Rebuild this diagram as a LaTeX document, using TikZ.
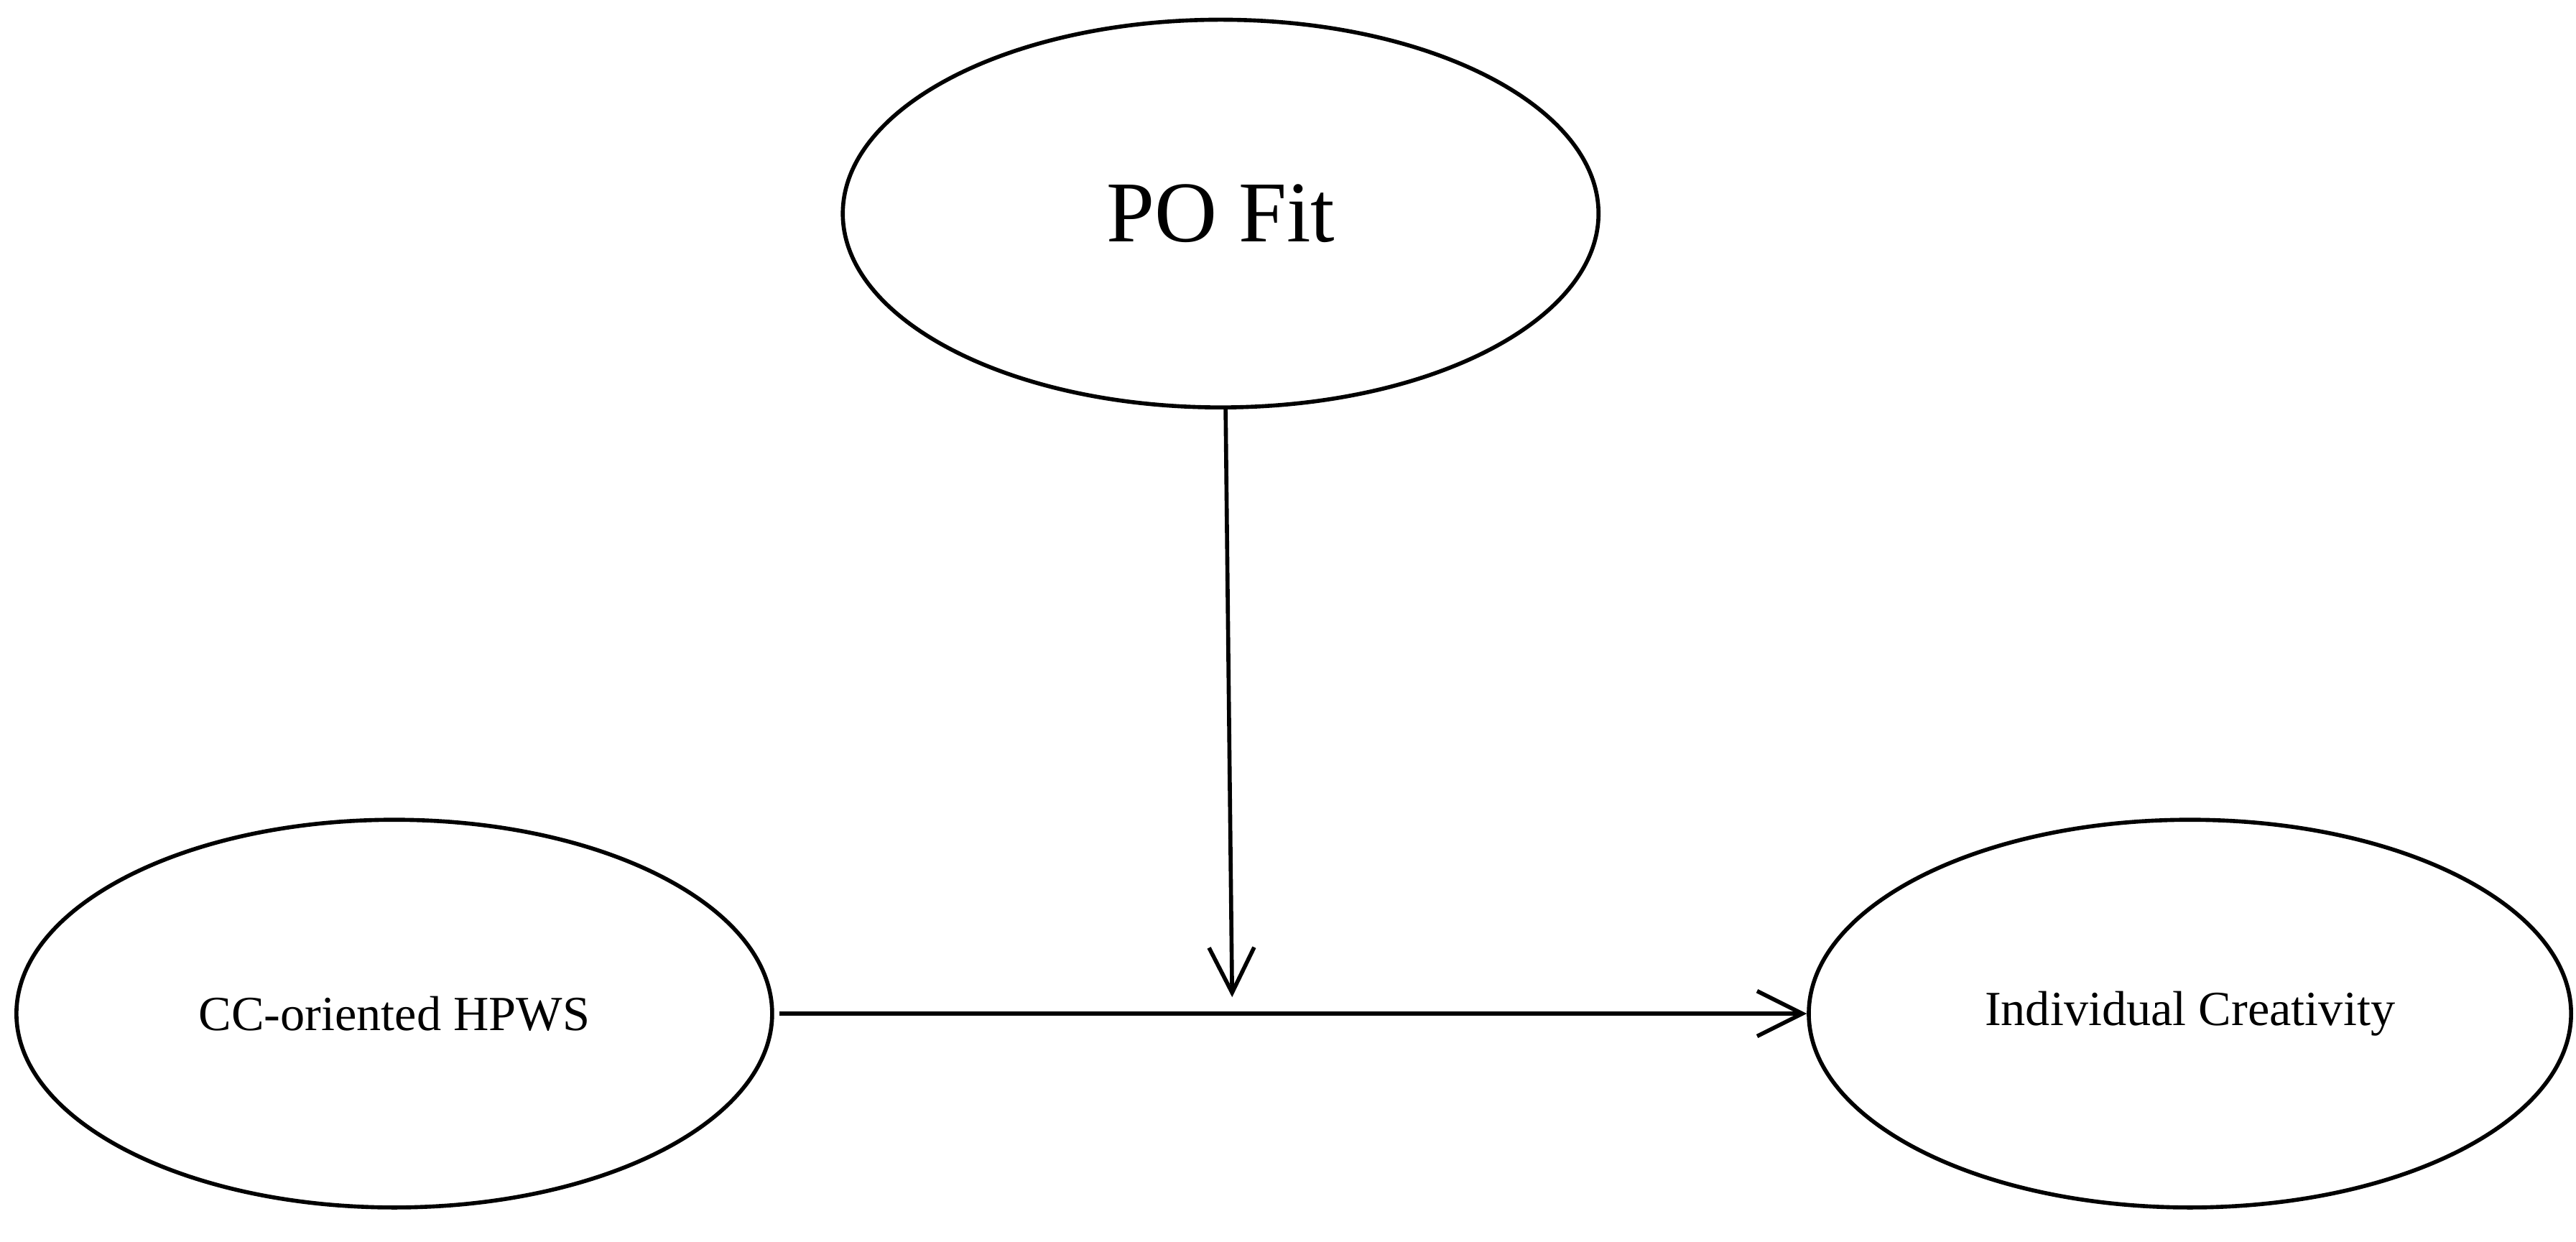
\documentclass[tikz,border=0pt]{standalone}
\usepackage{fontspec}
\setmainfont{Liberation Serif}
\usetikzlibrary{shapes.geometric,arrows.meta}
\begin{document}
\begin{tikzpicture}[x=0.02cm,y=-0.02cm,
  ell/.style={draw,ellipse,line width=1.4pt,minimum width=460*0.02cm,minimum height=236*0.02cm,inner sep=0pt},
  conn/.style={line width=1.4pt,-{Straight Barb[length=0.55cm,width=0.55cm,line width=1.4pt]}}]
\useasboundingbox (0,0) rectangle (1568,756);
\node[ell,font=\fontsize{30}{36}\selectfont] (po) at (743,130) {PO Fit};
\node[ell,font=\fontsize{17}{20}\selectfont] (cc) at (240,617) {CC-oriented HPWS};
\node[ell,minimum width=464*0.02cm,font=\fontsize{17}{20}\selectfont] (ic) at (1333,617) {Individual Creativity};
\coordinate (m) at (750,607);
\draw[conn] ([xshift=3*0.02cm]cc.east) -- (ic.west);
\draw[conn] (746,248) -- (m);
\end{tikzpicture}
\end{document}
